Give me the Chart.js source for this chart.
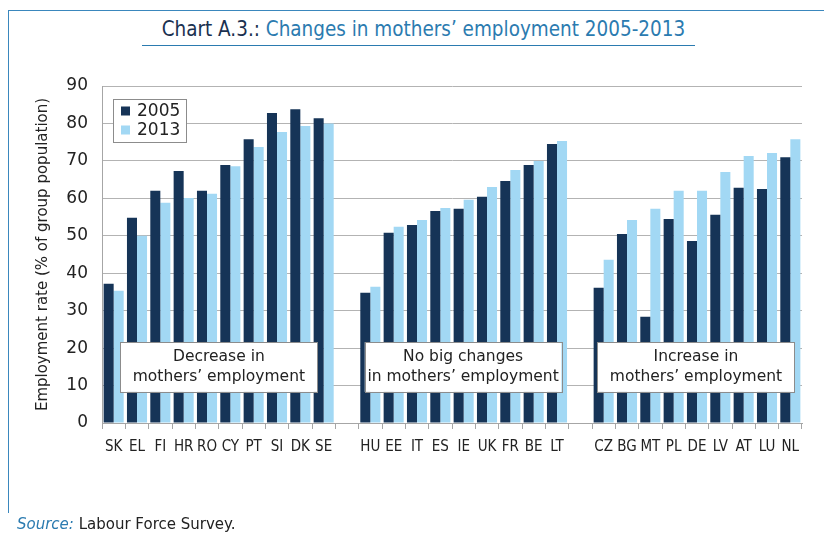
<!DOCTYPE html>
<html>
<head>
<meta charset="utf-8">
<script src="https://cdn.jsdelivr.net/npm/chart.js@4"></script>
<style>
  body { margin: 0; background: #fff; }
  #wrap { position: relative; width: 824px; height: 533px; overflow: hidden; }
  #frame { position: absolute; left: 8px; top: 10px; width: 830px; height: 502px;
           border-left: 1.5px solid #3a87bd; border-top: 1.5px solid #3a87bd; }
  #title { position: absolute; left: 142px; top: 17px; width: 553px; height: 28px;
           border-bottom: 1.5px solid #2b7bb0; text-align: center; white-space: nowrap; }
  #title span.txt { display: inline-block; transform: scaleX(0.93); transform-origin: center;
           font-family: "DejaVu Sans Condensed", "Liberation Sans Narrow", sans-serif;
           font-size: 22px; line-height: 24px; color: #2b7bb0; }
  #title .lead { color: #1b3150; }
  #source { position: absolute; left: 17px; top: 515px; font-family: "DejaVu Sans", sans-serif;
            font-size: 15px; color: #222; }
  #source i { color: #2b7bb0; }
  canvas { position: absolute; left: 0; top: 0; }
</style>
</head>
<body>
<div id="wrap">
  <div id="frame"></div>
  <div id="title"><span class="txt"><span class="lead">Chart A.3.:</span> Changes in mothers’ employment 2005-2013</span></div>
  <canvas id="chart" width="824" height="533"></canvas>
  <div id="source"><i>Source:</i> Labour Force Survey.</div>
</div>
<script>
// categories (empty strings are the gaps between the three groups)
const countries = ['SK','EL','FI','HR','RO','CY','PT','SI','DK','SE','',
                   'HU','EE','IT','ES','IE','UK','FR','BE','LT','',
                   'CZ','BG','MT','PL','DE','LV','AT','LU','NL'];
const rate2005 = [37.2,54.8,62.0,67.3,62.0,68.9,75.8,82.8,83.8,81.4,null,
                  34.8,50.8,52.9,56.6,57.2,60.4,64.6,68.9,74.5,null,
                  36.1,50.5,28.4,54.5,48.6,55.6,62.8,62.5,71.0];
const rate2013 = [35.3,50.0,58.8,60.1,61.2,68.6,73.7,77.7,79.3,80.0,null,
                  36.4,52.4,54.2,57.4,59.6,63.0,67.6,70.0,75.3,null,
                  43.6,54.2,57.2,62.0,62.0,67.0,71.3,72.1,75.8];
const yTicks = [0,10,20,30,40,50,60,70,80,90];

const groupNotes = [
  { lines: ['Decrease in', 'mothers’ employment'], from: 0.29, to: 8.73 },
  { lines: ['No big changes', 'in mothers’ employment'], from: 10.76, to: 19.19 },
  { lines: ['Increase in', 'mothers’ employment'], from: 20.73, to: 29.18 }
];
const noteBottom = 8.3, noteTop = 21.6;

const DARK = '#163457';
const LIGHT = '#a2d8f4';

// boxes with the group captions, placed with the chart's scales
const notesPlugin = {
  id: 'notes',
  afterDatasetsDraw(chart) {
    const { ctx, scales: { x, y } } = chart;
    ctx.save();
    groupNotes.forEach(n => {
      const l = x.getPixelForValue(n.from), r = x.getPixelForValue(n.to);
      const t = y.getPixelForValue(noteTop), b = y.getPixelForValue(noteBottom);
      ctx.fillStyle = '#fff';
      ctx.fillRect(l, t, r - l, b - t);
      ctx.strokeStyle = '#8c8c8c';
      ctx.lineWidth = 1;
      ctx.strokeRect(Math.round(l) + 0.5, Math.round(t) + 0.5, Math.round(r - l), Math.round(b - t));
      ctx.fillStyle = '#222';
      ctx.font = '15.5px "DejaVu Sans", sans-serif';
      ctx.textAlign = 'center';
      ctx.textBaseline = 'middle';
      const cx = (l + r) / 2, cy = (t + b) / 2;
      ctx.fillText(n.lines[0], cx, cy - 10);
      ctx.fillText(n.lines[1], cx, cy + 10);
    });
    ctx.restore();
  }
};

// legend box in the top-left of the plot
const legendPlugin = {
  id: 'boxLegend',
  afterDatasetsDraw(chart) {
    const { ctx, chartArea } = chart;
    const bx = chartArea.left + 11, by = chartArea.top + 13;
    ctx.save();
    ctx.fillStyle = '#fff';
    ctx.fillRect(bx, by, 73, 43);
    ctx.strokeStyle = '#8c8c8c';
    ctx.lineWidth = 1;
    ctx.strokeRect(Math.round(bx) + 0.5, Math.round(by) + 0.5, 73, 43);
    ctx.font = '17px "DejaVu Sans", sans-serif';
    ctx.textBaseline = 'middle';
    ctx.textAlign = 'left';
    chart.data.datasets.forEach((ds, i) => {
      const cy = by + 12 + i * 19;
      ctx.fillStyle = ds.backgroundColor;
      ctx.fillRect(bx + 8, cy - 4.5, 9, 9);
      ctx.fillStyle = '#222';
      ctx.fillText(ds.label, bx + 24, cy + 1);
    });
    ctx.restore();
  }
};

new Chart(document.getElementById('chart'), {
  type: 'bar',
  data: {
    labels: countries,
    datasets: [
      { label: '2005', data: rate2005, backgroundColor: DARK },
      { label: '2013', data: rate2013, backgroundColor: LIGHT }
    ]
  },
  options: {
    responsive: false,
    animation: false,
    categoryPercentage: 0.86,
    barPercentage: 1.0,
    layout: { padding: { left: 30, top: 86, right: 22, bottom: 80 } },
    plugins: { legend: { display: false }, tooltip: { enabled: false } },
    scales: {
      x: {
        grid: { display: true, drawOnChartArea: false, offset: true, tickLength: 6, color: '#a6a6a6' },
        border: { color: '#a6a6a6' },
        ticks: {
          color: '#222', padding: 9, autoSkip: false, maxRotation: 0,
          font: { family: '"DejaVu Sans Condensed", "Liberation Sans Narrow", sans-serif', size: 15 }
        },
        afterFit(scale) { scale.height = 30; }
      },
      y: {
        min: 0, max: 90,
        afterBuildTicks(scale) { scale.ticks = yTicks.map(v => ({ value: v })); },
        grid: { color: '#b3b3b3', drawTicks: false, tickLength: 0 },
        border: { color: '#a6a6a6' },
        ticks: { color: '#222', padding: 14, font: { family: '"DejaVu Sans", sans-serif', size: 17 } },
        title: {
          display: true, text: 'Employment rate (% of group population)', color: '#222',
          font: { family: '"DejaVu Sans", sans-serif', size: 15 }
        },
        afterFit(scale) { scale.width = 72; }
      }
    }
  },
  plugins: [notesPlugin, legendPlugin]
});
</script>
</body>
</html>
